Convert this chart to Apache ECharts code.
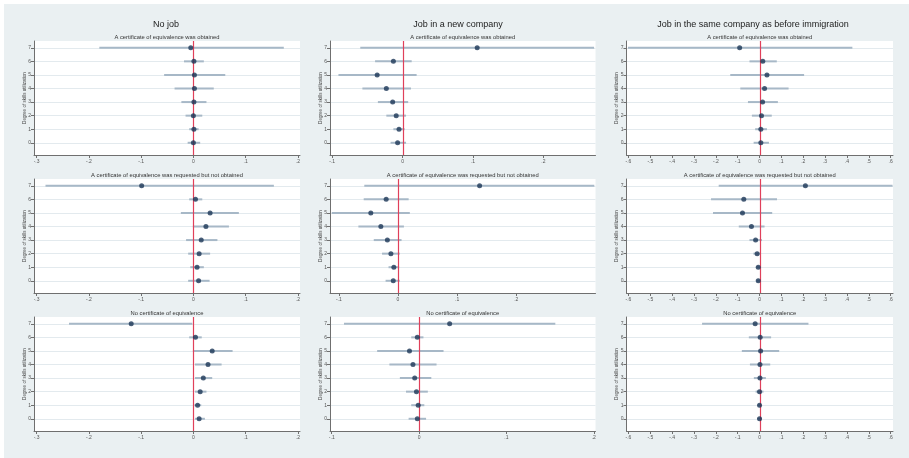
<!DOCTYPE html>
<html>
<head>
<meta charset="utf-8">
<script src="https://cdn.jsdelivr.net/npm/echarts@6/dist/echarts.min.js"></script>
<style>
  html, body { margin: 0; padding: 0; background: #fff; }
  #chart { width: 909px; height: 458px; }
</style>
</head>
<body>
<div id="chart"></div>
<script>
// skill-utilization levels 0..7 (bottom to top)
const levels = [0, 1, 2, 3, 4, 5, 6, 7]
const refValue = [0]

const columnTitles = ['No job', 'Job in a new company', 'Job in the same company as before immigration']
const rowTitles = [
  'A certificate of equivalence was obtained',
  'A certificate of equivalence was requested but not obtained',
  'No certificate of equivalence'
]
const yAxisTitle = 'Degree of skills utilization'

const col1Ticks = [-0.3, -0.2, -0.1, 0, 0.1, 0.2]
const col2Ticks = [-0.1, 0, 0.1, 0.2]
const col3Ticks = [-0.6, -0.5, -0.4, -0.3, -0.2, -0.1, 0, 0.1, 0.2, 0.3, 0.4, 0.5, 0.6]

// No job
const noJobObtCoef = [0, 0.001, 0, 0.001, 0.002, 0.002, 0.001, -0.005]
const noJobObtLo = [-0.011, -0.008, -0.015, -0.023, -0.036, -0.056, -0.018, -0.18]
const noJobObtHi = [0.013, 0.010, 0.017, 0.025, 0.039, 0.061, 0.020, 0.173]

const noJobReqCoef = [0.010, 0.007, 0.011, 0.015, 0.024, 0.032, 0.004, -0.099]
const noJobReqLo = [-0.010, -0.006, -0.010, -0.014, -0.001, -0.024, -0.008, -0.283]
const noJobReqHi = [0.031, 0.020, 0.032, 0.046, 0.068, 0.087, 0.017, 0.154]

const noJobNoneCoef = [0.011, 0.008, 0.013, 0.019, 0.028, 0.036, 0.004, -0.119]
const noJobNoneLo = [0.003, 0.002, 0.003, 0.003, 0.003, -0.001, -0.008, -0.238]
const noJobNoneHi = [0.022, 0.015, 0.025, 0.036, 0.054, 0.075, 0.016, -0.002]

// Job in a new company
const newCoObtCoef = [-0.007, -0.005, -0.009, -0.014, -0.023, -0.036, -0.013, 0.106]
const newCoObtLo = [-0.017, -0.013, -0.023, -0.035, -0.057, -0.091, -0.039, -0.060]
const newCoObtHi = [0.005, 0.003, 0.005, 0.008, 0.012, 0.020, 0.013, 0.272]

const newCoReqCoef = [-0.008, -0.007, -0.012, -0.018, -0.029, -0.046, -0.020, 0.138]
const newCoReqLo = [-0.021, -0.016, -0.027, -0.041, -0.067, -0.112, -0.058, -0.057]
const newCoReqHi = [0.003, 0.002, 0.003, 0.006, 0.010, 0.020, 0.018, 0.332]

const newCoNoneCoef = [-0.002, -0.001, -0.003, -0.005, -0.007, -0.011, -0.002, 0.035]
const newCoNoneLo = [-0.012, -0.009, -0.015, -0.022, -0.034, -0.048, -0.009, -0.086]
const newCoNoneHi = [0.008, 0.006, 0.010, 0.014, 0.020, 0.028, 0.005, 0.156]

// Job in the same company as before immigration
const sameCoObtCoef = [0.006, 0.006, 0.009, 0.014, 0.023, 0.034, 0.015, -0.091]
const sameCoObtLo = [-0.027, -0.020, -0.035, -0.053, -0.088, -0.134, -0.046, -0.602]
const sameCoObtHi = [0.043, 0.034, 0.056, 0.084, 0.133, 0.204, 0.079, 0.425]

const sameCoReqCoef = [-0.006, -0.006, -0.011, -0.018, -0.037, -0.078, -0.072, 0.210]
const sameCoReqLo = [-0.014, -0.015, -0.028, -0.046, -0.095, -0.213, -0.222, -0.187]
const sameCoReqHi = [0.002, 0.003, 0.006, 0.011, 0.023, 0.058, 0.080, 0.609]

const sameCoNoneCoef = [0, 0, 0, 0.002, 0.002, 0.005, 0.003, -0.020]
const sameCoNoneLo = [-0.011, -0.008, -0.018, -0.026, -0.044, -0.081, -0.049, -0.263]
const sameCoNoneHi = [0.011, 0.008, 0.018, 0.029, 0.049, 0.090, 0.053, 0.224]

// panels, row by row
const panels = [
  [noJobObtCoef, noJobObtLo, noJobObtHi, 0, 0],
  [newCoObtCoef, newCoObtLo, newCoObtHi, 0, 1],
  [sameCoObtCoef, sameCoObtLo, sameCoObtHi, 0, 2],
  [noJobReqCoef, noJobReqLo, noJobReqHi, 1, 0],
  [newCoReqCoef, newCoReqLo, newCoReqHi, 1, 1],
  [sameCoReqCoef, sameCoReqLo, sameCoReqHi, 1, 2],
  [noJobNoneCoef, noJobNoneLo, noJobNoneHi, 2, 0],
  [newCoNoneCoef, newCoNoneLo, newCoNoneHi, 2, 1],
  [sameCoNoneCoef, sameCoNoneLo, sameCoNoneHi, 2, 2]
]

// layout
const colLeft = [34, 330, 626.5]
const colRight = [300, 595.5, 893]
const rowTop = [41, 179, 317]
const plotH = 114
const colTicks = [col1Ticks, col2Ticks, col3Ticks]
// x range per panel [row][col]
const xRange = [
  [[-0.305, 0.204], [-0.103, 0.274], [-0.609, 0.611]],
  [[-0.305, 0.204], [-0.115, 0.334], [-0.609, 0.611]],
  [[-0.305, 0.204], [-0.102, 0.202], [-0.609, 0.611]]
]

const FONT = 'Liberation Sans, Arial, sans-serif'
const bg = '#eaf0f2'
const ciColor = '#a7b8c7'
const dotColor = '#1b3656'
const refColor = '#e0405a'
const axisColor = '#6f6f6f'

const fmt = v => {
  if (Math.abs(v) < 1e-9) return '0'
  return (v < 0 ? '-' : '') + Math.abs(v).toFixed(1).replace(/^0/, '')
}

const grids = []
const xAxes = []
const yAxes = []
const series = []

panels.forEach((p, i) => {
  const [coef, lo, hi, r, c] = p
  grids.push({
    left: colLeft[c],
    top: rowTop[r],
    width: colRight[c] - colLeft[c],
    height: plotH,
    show: true,
    backgroundColor: '#ffffff',
    borderWidth: 0
  })
  xAxes.push({
    type: 'value',
    gridIndex: i,
    min: xRange[r][c][0],
    max: xRange[r][c][1],
    axisLine: { show: true, onZero: false, lineStyle: { color: axisColor, width: 1 } },
    axisTick: { show: true, length: 3, customValues: colTicks[c], lineStyle: { color: axisColor } },
    axisLabel: {
      customValues: colTicks[c],
      formatter: fmt,
      fontSize: 5,
      color: '#555',
      margin: 4,
      fontFamily: FONT
    },
    splitLine: { show: false }
  })
  yAxes.push({
    type: 'value',
    gridIndex: i,
    min: -0.9,
    max: 7.5,
    name: yAxisTitle,
    nameLocation: 'middle',
    nameRotate: 90,
    nameGap: 7,
    nameMoveOverlap: false,
    nameTextStyle: { fontSize: 4.6, color: '#444', fontFamily: FONT },
    axisLine: { show: true, onZero: false, lineStyle: { color: axisColor, width: 1 } },
    axisTick: { show: true, length: 3, customValues: levels, lineStyle: { color: axisColor } },
    axisLabel: {
      customValues: levels,
      fontSize: 5,
      color: '#555',
      margin: 3,
      fontFamily: FONT
    },
    splitLine: { show: true, lineStyle: { color: '#e3eaee', width: 1 } }
  })
  // confidence intervals
  series.push({
    type: 'custom',
    xAxisIndex: i,
    yAxisIndex: i,
    silent: true,
    data: levels.map((lv, k) => [lv, lo[k], hi[k]]),
    encode: { x: [1, 2], y: 0 },
    renderItem: (params, api) => {
      const y = api.value(0)
      const a = api.coord([api.value(1), y])
      const b = api.coord([api.value(2), y])
      return {
        type: 'line',
        shape: { x1: a[0], y1: a[1], x2: b[0], y2: b[1] },
        style: { stroke: ciColor, lineWidth: 2 }
      }
    },
    z: 1
  })
  // reference line at zero
  series.push({
    type: 'custom',
    xAxisIndex: i,
    yAxisIndex: i,
    silent: true,
    data: refValue.map(v => [v, 0]),
    encode: { x: 0, y: 1 },
    renderItem: (params, api) => {
      const cs = params.coordSys
      const x = Math.round(api.coord([api.value(0), 0])[0]) + 0.5
      return {
        type: 'line',
        shape: { x1: x, y1: cs.y, x2: x, y2: cs.y + cs.height },
        style: { stroke: refColor, lineWidth: 1.2 }
      }
    },
    z: 2
  })
  // point estimates
  series.push({
    type: 'scatter',
    xAxisIndex: i,
    yAxisIndex: i,
    silent: true,
    symbolSize: 5,
    itemStyle: { color: dotColor },
    data: levels.map((lv, k) => [coef[k], lv]),
    z: 3
  })
})

const graphics = [
  { type: 'rect', left: 4, top: 4, shape: { width: 905, height: 454 }, style: { fill: bg }, z: -10 }
]
const colCenter = [166, 458, 753]
columnTitles.forEach((t, c) => {
  graphics.push({
    type: 'text', x: colCenter[c], y: 25,
    style: { text: t, fill: '#222', font: '9px ' + FONT, align: 'center', verticalAlign: 'middle' }
  })
})
const subY = [37.5, 175, 313]
rowTitles.forEach((t, r) => {
  for (let c = 0; c < 3; c++) {
    graphics.push({
      type: 'text', x: (colLeft[c] + colRight[c]) / 2, y: subY[r],
      style: { text: t, fill: '#333', font: '5.8px ' + FONT, align: 'center', verticalAlign: 'middle' }
    })
  }
})

const chart = echarts.init(document.getElementById('chart'))
chart.setOption({
  animation: false,
  backgroundColor: '#ffffff',
  textStyle: { fontFamily: FONT },
  graphic: graphics,
  grid: grids,
  xAxis: xAxes,
  yAxis: yAxes,
  series
})
</script>
</body>
</html>
